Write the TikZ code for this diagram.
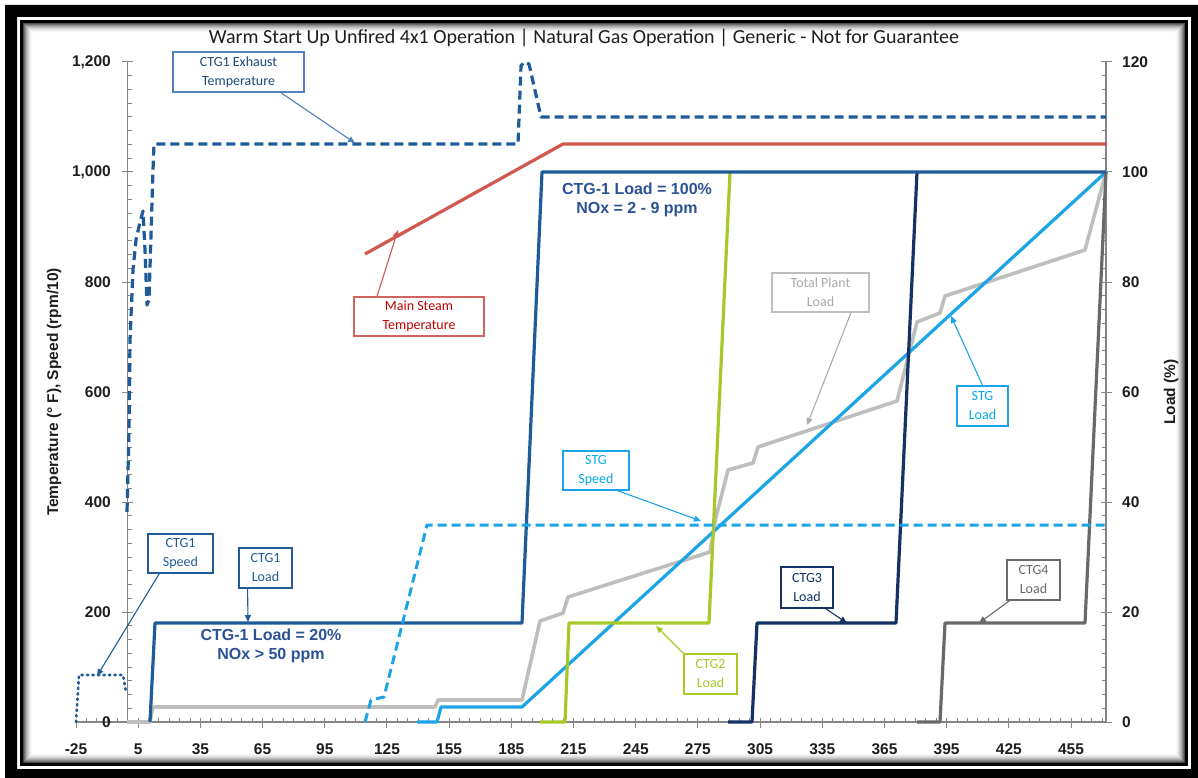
\documentclass[tikz,border=0pt]{standalone}
\usepackage{fontspec}
\setmainfont{Carlito}
\newfontfamily\arialf{Liberation Sans}
\usetikzlibrary{arrows.meta,calc}
\definecolor{ctgblue}{RGB}{31,91,153}
\definecolor{steamred}{RGB}{208,88,78}
\definecolor{stgblue}{RGB}{28,165,230}
\definecolor{ctggreen}{RGB}{166,200,40}
\definecolor{ctgnavy}{RGB}{20,50,100}
\definecolor{ctggray}{RGB}{105,105,105}
\definecolor{plantgray}{RGB}{190,190,190}
\definecolor{axisgray}{RGB}{134,134,134}
\definecolor{txtdark}{RGB}{30,30,30}
\definecolor{notetxt}{RGB}{44,82,150}
\definecolor{exhbord}{RGB}{79,129,189}
\definecolor{exhtxt}{RGB}{31,73,125}
\definecolor{msred}{RGB}{192,0,0}
\definecolor{msbord}{RGB}{210,100,95}
\definecolor{stgtxt}{RGB}{0,170,235}
\definecolor{tpgray}{RGB}{170,170,170}
\tikzset{
  series/.style={line width=3.2pt, line join=round},
  callout/.style={draw, line width=1.3pt, fill=white, inner sep=0pt, align=center,
    font=\fontsize{14}{19}\selectfont},
  pointer/.style={line width=1.1pt, -{Triangle[length=7pt,width=6pt]}},
  ticklab/.style={font=\arialf\bfseries\fontsize{15.5}{17}\selectfont, text=txtdark, inner sep=0pt},
  axtitle/.style={font=\arialf\bfseries\fontsize{15.5}{18}\selectfont, text=txtdark, inner sep=0pt},
  bignote/.style={font=\arialf\bfseries\fontsize{16}{19}\selectfont, text=notetxt, align=center, inner sep=0pt},
  axisline/.style={axisgray, line width=1.3pt},
  tickmark/.style={axisgray, line width=1pt}
}
\begin{document}
\begin{tikzpicture}[x=1pt,y=-1pt]
\useasboundingbox (0,0) rectangle (1198,778);
\fill[white] (0,0) rectangle (1198,778);
% frame
\fill[black, even odd rule] (5,5) rectangle (1198,778) (17,17) rectangle (1191,769);
\draw[black, line width=3pt] (21.5,21.5) rectangle (1186.5,764.5);
\foreach \i in {0,...,9} {
  \pgfmathsetmacro\c{70*(1-\i/10)^2}
  \draw[black!\c, line width=1pt] ({23.5+\i},{23.5+\i}) rectangle ({1184.5-\i},{762.5-\i});
}
% title
\node[font=\fontsize{20}{24}\selectfont, text=txtdark] (title) at (584,38)
  {Warm Start Up Unfired 4x1 Operation | Natural Gas Operation | Generic - Not for Guarantee};
% axes
\draw[axisline] (127.8,62) -- (127.8,722);
\draw[axisline] (1106,62) -- (1106,722);
\draw[axisline] (76,722) -- (1106,722);
\foreach \k in {0,...,6} {
  \draw[tickmark] (122,{722-110*\k}) -- (133,{722-110*\k});
  \draw[tickmark] (1101,{722-110*\k}) -- (1112,{722-110*\k});
}
\foreach \k in {1,...,47} {
  \draw[tickmark] (127.8,{722-13.75*\k}) -- (132,{722-13.75*\k});
  \draw[tickmark] (1102,{722-13.75*\k}) -- (1106,{722-13.75*\k});
}
\foreach \k in {0,...,16} \draw[tickmark] ({76+62.19*\k},722) -- ({76+62.19*\k},728);
\foreach \k in {1,...,99} \draw[tickmark] ({76+10.365*\k},718) -- ({76+10.365*\k},722);
% tick labels
\foreach \k/\lab in {0/0,1/200,2/400,3/600,4/800,5/{1,000},6/{1,200}}
  \node[ticklab, anchor=east] at (111,{722-110*\k}) {\lab};
\foreach \k/\lab in {0/0,1/20,2/40,3/60,4/80,5/100,6/120}
  \node[ticklab, anchor=west] at (1122,{722-110*\k}) {\lab};
\foreach \k [evaluate=\k as \v using {int(-25+30*\k)}] in {0,...,16}
  \node[ticklab] at ({76+62.19*\k},749) {\v};
% axis titles
\node[axtitle, rotate=90] (ylab) at (54,392) {Temperature (° F), Speed (rpm/10)};
\node[axtitle, rotate=90] (y2lab) at (1171,392) {Load (\%)};
% series
\draw[series, plantgray, line width=3.6pt] (127,722) -- (150,722) -- (153,707) -- (435,707) -- (438,700) -- (522,700)
  -- (540,621) -- (563,613) -- (568,597) -- (710,552) -- (716,517) -- (728,470) -- (753,463) -- (758,447)
  -- (897,401) -- (917,322) -- (940,313) -- (945,296) -- (1085,250) -- (1106,172);
\draw[series, stgblue] (417,722) -- (437,722) -- (441,707) -- (522,707) -- (1106,172);
\draw[series, ctggreen] (540,722) -- (565,722) -- (569,623) -- (709,623) -- (730,172);
\draw[series, ctggray] (917,722) -- (940,722) -- (945,623) -- (1085,623) -- (1106,172);
\draw[series, ctgnavy] (728,722) -- (752,722) -- (757,623) -- (896,623) -- (917,172);
\draw[series, ctgblue] (150,722) -- (155,623) -- (522,623) -- (542,172) -- (1106,172);
\draw[series, steamred] (365,254) -- (563,144) -- (1106,144);
\draw[series, ctgblue, dash pattern=on 9pt off 5pt] (127,512) -- (129,430) -- (130,340) -- (133,270) -- (136,240)
  -- (140,222) -- (143,211) -- (145,250) -- (147,305) -- (149,300) -- (151,235) -- (153,170) -- (154,144)
  -- (518,144) -- (521,66) -- (524,62) -- (529,64) -- (541,117) -- (1106,117);
\draw[series, stgblue, line width=3pt, dash pattern=on 9pt off 5pt] (365,722) -- (371,700) -- (384,697) -- (427,525) -- (1106,525);
\draw[series, ctgblue, line width=2.6pt, dash pattern=on 1.5pt off 4pt, line cap=round] (76,722) -- (79,675) -- (123,675) -- (126,692);
% notes
\node[bignote] (n100) at (637,200) {CTG-1 Load = 100\%\\NOx = 2 - 9 ppm};
\node[bignote] (n20) at (271,646) {CTG-1 Load = 20\%\\NOx > 50 ppm};
% callouts
\node[callout, draw=exhbord, text=exhtxt, minimum width=131pt, minimum height=40pt] (cexh) at (238.5,72) {CTG1 Exhaust\\Temperature};
\node[callout, draw=msbord, text=msred, minimum width=130pt, minimum height=39pt] (cms) at (419,316.5) {Main Steam\\Temperature};
\node[callout, draw=stgblue, text=stgtxt, minimum width=66pt, minimum height=39pt] (cstgs) at (596,470.5) {STG\\Speed};
\node[callout, draw=plantgray, text=tpgray, minimum width=97pt, minimum height=39pt] (ctp) at (820.5,292.5) {Total Plant\\Load};
\node[callout, draw=stgblue, text=stgtxt, minimum width=51pt, minimum height=40pt] (cstgl) at (982.5,406) {STG\\Load};
\node[callout, draw=ctgblue, text=ctgblue, minimum width=65pt, minimum height=39pt] (c1s) at (180.5,553.5) {CTG1\\Speed};
\node[callout, draw=ctgblue, text=ctgblue, minimum width=53pt, minimum height=40pt] (c1l) at (265.5,568) {CTG1\\Load};
\node[callout, draw=ctggreen, text=ctggreen, minimum width=53pt, minimum height=40pt] (c2l) at (710.5,674) {CTG2\\Load};
\node[callout, draw=ctgnavy, text=ctgnavy, minimum width=52pt, minimum height=41pt] (c3l) at (807,587.5) {CTG3\\Load};
\node[callout, draw=ctggray, text=ctggray, minimum width=53pt, minimum height=40pt] (c4l) at (1033.5,580) {CTG4\\Load};
% pointer tips
\coordinate (texh) at (355,143);
\coordinate (tms) at (398,230);
\coordinate (tstgs) at (701,521);
\coordinate (ttp) at (807,425);
\coordinate (tstgl) at (951,316);
\coordinate (t1s) at (97,676);
\coordinate (t1l) at (248,622);
\coordinate (t2l) at (656,626);
\coordinate (t3l) at (847,623);
\coordinate (t4l) at (979,623);
\draw[pointer, exhbord] ($(cexh.south west)!0.82!(cexh.south east)$) -- (texh);
\draw[pointer, steamred] ($(cms.north west)!0.18!(cms.north east)$) -- (tms);
\draw[pointer, stgblue] ($(cstgs.south west)!0.82!(cstgs.south east)$) -- (tstgs);
\draw[pointer, tpgray] ($(ctp.south west)!0.81!(ctp.south east)$) -- (ttp);
\draw[pointer, stgblue] (cstgl.north) -- (tstgl);
\draw[pointer, ctgblue] ($(c1s.south west)!0.18!(c1s.south east)$) -- (t1s);
\draw[pointer, ctgblue] ($(c1l.south west)!0.17!(c1l.south east)$) -- (t1l);
\draw[pointer, ctggreen] (c2l.north west) -- (t2l);
\draw[pointer, ctgnavy] ($(c3l.south west)!0.85!(c3l.south east)$) -- (t3l);
\draw[pointer, ctggray] ($(c4l.south west)!0.06!(c4l.south east)$) -- (t4l);
\end{tikzpicture}
\end{document}
